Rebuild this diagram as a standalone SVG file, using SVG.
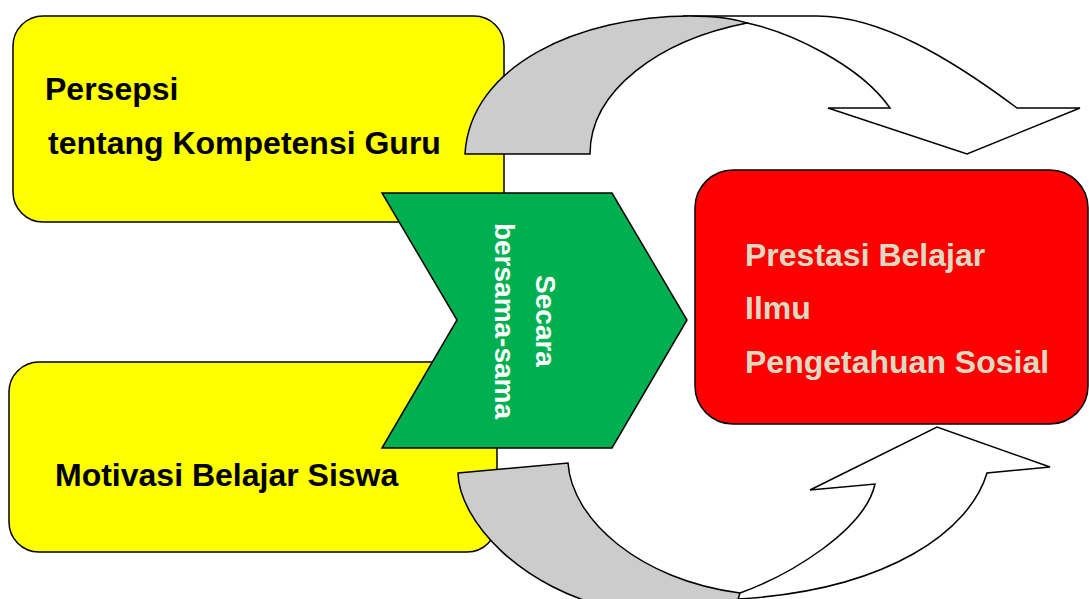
<svg xmlns="http://www.w3.org/2000/svg" width="1089" height="599" viewBox="0 0 1089 599">
  <style>
    .box { stroke: #000; stroke-width: 1.5; }
    .lbl { font-family: "Liberation Sans", Arial, sans-serif; font-weight: bold; font-size: 32px; }
    .dark { fill: #000; }
    .light { fill: #DDD9C3; }
    .chev { font-family: "Liberation Sans", Arial, sans-serif; font-weight: bold; font-size: 28px; fill: #fff; }
    .ribbon { stroke: #000; stroke-width: 1.5; stroke-linejoin: miter; }
  </style>
  <rect width="1089" height="599" fill="#fff"/>

  <g id="node-persepsi">
    <rect class="box" x="13" y="16" width="491" height="206" rx="30" ry="30" fill="#FFFF00"/>
    <text class="lbl dark" x="45" y="100">Persepsi</text>
    <text class="lbl dark" x="48" y="154">tentang Kompetensi Guru</text>
  </g>

  <g id="node-motivasi">
    <rect class="box" x="9" y="362" width="488" height="190" rx="30" ry="30" fill="#FFFF00"/>
    <text class="lbl dark" x="55" y="486">Motivasi Belajar Siswa</text>
  </g>

  <g id="node-prestasi">
    <rect class="box" x="695" y="170" width="393" height="254" rx="38" ry="38" fill="#FF0000"/>
    <text class="lbl light" x="745" y="266">Prestasi Belajar</text>
    <text class="lbl light" x="745" y="319">Ilmu</text>
    <text class="lbl light" x="745" y="373">Pengetahuan Sosial</text>
  </g>

  <g id="connectors">
    <!-- top curved arrow -->
    <path class="ribbon" fill="#fff" d="M683,16 L817,16 C880,16 950,58 1017,108 L1080,108 L967,154 L828,108 L890,108 C860,65 790,32 747,23 Z"/>
    <path class="ribbon" fill="#CCCCCC" d="M465,154 C470,65 580,16 690,16 C715,16 735,19 747,23 C660,40 590,90 590,154 Z"/>
    <!-- bottom curved arrow -->
    <path class="ribbon" fill="#CCCCCC" d="M458,473 L568,463 C572,520 640,580 740,593 L745,608 L620,610 C520,590 459,520 458,473 Z"/>
    <path class="ribbon" fill="#fff" d="M740,593 C790,575 865,530 875,484 L810,490 L937,427 L1050,467 L987,473 C970,530 890,590 738,599 Z"/>
  </g>

  <g id="node-bersama">
    <polygon class="box" fill="#00B050" points="382,193 612,193 687,320 612,448 382,448 457,320"/>
    <text class="chev" text-anchor="middle" transform="translate(536,321) rotate(90)">Secara</text>
    <text class="chev" text-anchor="middle" transform="translate(495,321) rotate(90)">bersama-sama</text>
  </g>
</svg>
